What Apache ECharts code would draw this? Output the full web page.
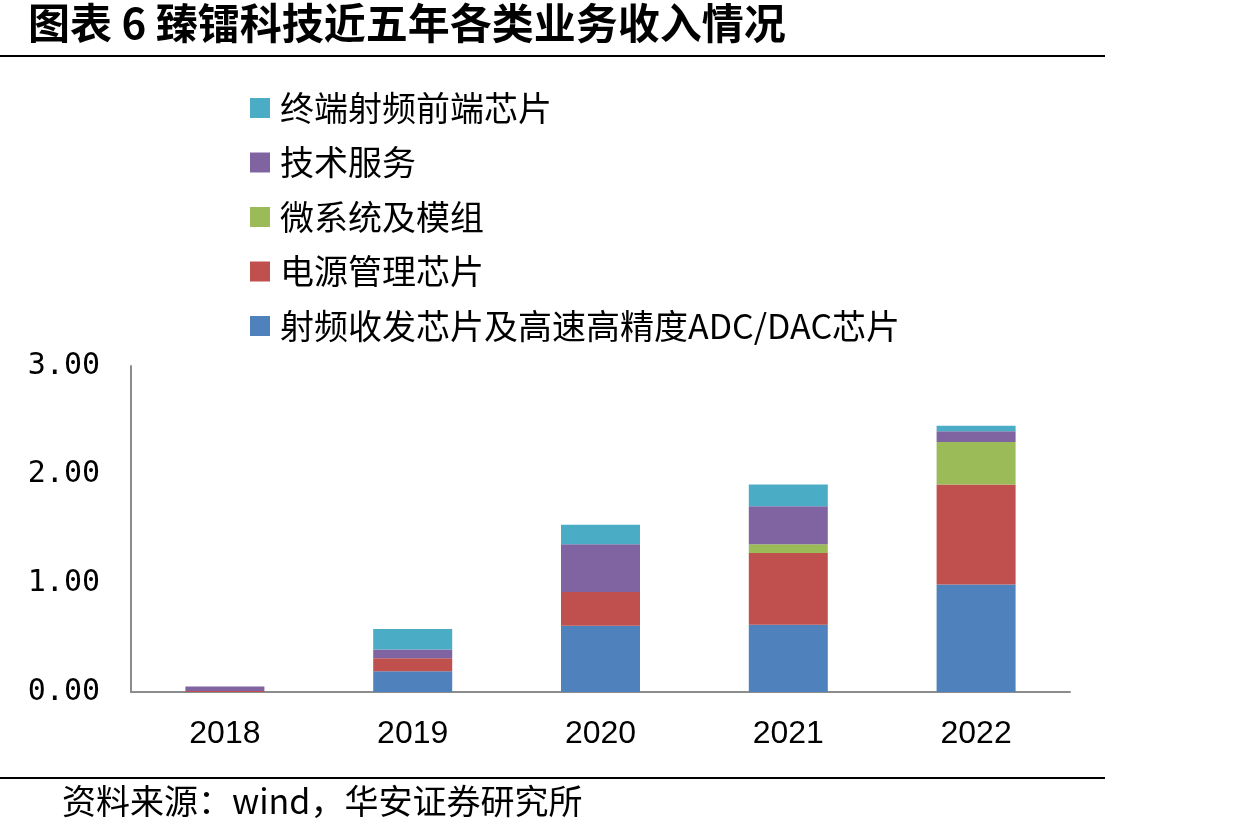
<!DOCTYPE html>
<html>
<head>
<meta charset="utf-8">
<script src="https://cdn.jsdelivr.net/npm/echarts@6/dist/echarts.min.js"></script>
<style>
  html, body { margin: 0; padding: 0; background: #fff; }
  #chart { width: 1259px; height: 838px; }
</style>
</head>
<body>
<div id="chart"></div>
<script>
  var years = ['2018', '2019', '2020', '2021', '2022']
  var seriesNames = ['射频收发芯片及高速高精度ADC/DAC芯片', '电源管理芯片', '微系统及模组', '技术服务', '终端射频前端芯片']
  var rfTransceiver = [0.00, 0.19, 0.61, 0.62, 0.99]
  var powerMgmt = [0.01, 0.12, 0.31, 0.66, 0.92]
  var microSystem = [0.00, 0.00, 0.00, 0.08, 0.39]
  var techService = [0.04, 0.08, 0.44, 0.35, 0.10]
  var rfFrontEnd = [0.00, 0.19, 0.18, 0.20, 0.05]
  var yTicks = [0, 1, 2, 3]

  var colors = ['#4F81BD', '#C0504D', '#9BBB59', '#8064A2', '#4BACC6']
  var values = [rfTransceiver, powerMgmt, microSystem, techService, rfFrontEnd]
  var font = '"Noto Sans CJK SC", "Noto Sans", sans-serif'

  var chart = echarts.init(document.getElementById('chart'))

  var series = []
  for (var i = 0; i < seriesNames.length; i++) {
    series.push({
      name: seriesNames[i],
      type: 'bar',
      stack: 'total',
      barWidth: 79,
      itemStyle: { color: colors[i] },
      data: values[i]
    })
  }

  chart.setOption({
    backgroundColor: '#ffffff',
    animation: false,
    textStyle: { fontFamily: font },
    grid: { left: 131, right: 189, top: 366, bottom: 146 },
    legend: {
      orient: 'vertical',
      left: 245,
      top: 86,
      itemWidth: 20,
      itemHeight: 20,
      itemGap: 20.5,
      icon: 'rect',
      data: seriesNames.slice().reverse(),
      textStyle: { fontSize: 34, color: '#000', fontFamily: font, lineHeight: 34, padding: [0, 0, 0, 5] }
    },
    xAxis: {
      type: 'category',
      data: years,
      axisLine: { lineStyle: { color: '#8c8c8c', width: 2 } },
      axisTick: { show: false },
      axisLabel: { fontSize: 32, color: '#000', margin: 26, fontFamily: 'Liberation Sans, Arial, sans-serif' }
    },
    yAxis: {
      type: 'value',
      min: yTicks[0],
      max: yTicks[yTicks.length - 1],
      interval: 1,
      axisLine: { show: true, lineStyle: { color: '#8c8c8c', width: 2 } },
      axisTick: { show: false },
      splitLine: { show: false },
      axisLabel: {
        fontSize: 30, color: '#000', margin: 31, fontFamily: '"DejaVu Sans Mono", monospace',
        formatter: function (v) { return v.toFixed(2) }
      }
    },
    graphic: [
      {
        type: 'text', left: 28, top: 2,
        style: { text: '图表 6 臻镭科技近五年各类业务收入情况', font: 'bold 42px ' + font, fill: '#000' }
      },
      {
        type: 'line', shape: { x1: 0, y1: 56, x2: 1105, y2: 56 },
        style: { stroke: '#000', lineWidth: 2 }
      },
      {
        type: 'line', shape: { x1: 0, y1: 778, x2: 1105, y2: 778 },
        style: { stroke: '#000', lineWidth: 2 }
      },
      {
        type: 'text', left: 62, top: 784,
        style: { text: '资料来源：wind，华安证券研究所', font: '34px ' + font, fill: '#000' }
      }
    ],
    series: series
  })
</script>
</body>
</html>
